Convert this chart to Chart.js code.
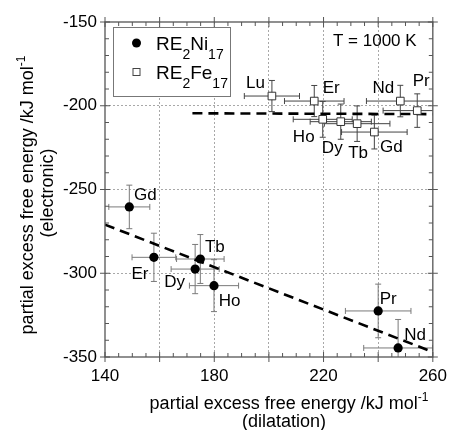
<!DOCTYPE html>
<html>
<head>
<meta charset="utf-8">
<script src="https://cdn.jsdelivr.net/npm/chart.js@4/dist/chart.umd.min.js"></script>
<style>
html,body{margin:0;padding:0;background:#fff;}
#wrap{width:456px;height:430px;position:relative;}
</style>
</head>
<body>
<div id="wrap"><canvas id="c" width="456" height="430"></canvas></div>
<script>
// ---- data ----
const niNames = ['Gd','Er','Tb','Dy','Ho','Pr','Nd'];
const niX     = [148.9, 157.9, 174.9, 173.0, 179.9, 240.0, 247.3];
const niY     = [-260.4, -290.5, -291.5, -297.5, -307.4, -322.5, -344.6];
const niXErr  = [7.5, 8.0, 8.7, 8.8, 9.0, 12.0, 12.6];
const niYErr  = [13.0, 14.4, 14.6, 14.7, 15.5, 16.0, 17.0];

const feNames = ['Lu','Er','Ho','Dy','Tb','Gd','Nd','Pr'];
const feX     = [201.1, 216.6, 219.7, 226.3, 232.3, 238.6, 248.1, 254.3];
const feY     = [-194.2, -197.2, -208.1, -209.5, -210.7, -215.7, -197.2, -202.9];
const feXErr  = [10.1, 10.9, 10.8, 11.2, 12.0, 12.0, 12.4, 12.5];
const feYErr  = [9.3, 9.3, 10.7, 10.5, 10.6, 10.1, 9.4, 10.0];

const niFitX = [140, 260];
const niFitY = [-271, -347];
const feFitX = [172, 260];
const feFitY = [-204.5, -205];

const xTickLabels = [140, 180, 220, 260];
const yTickLabels = [-150, -200, -250, -300, -350];

const legendNames = ['RE2Ni17', 'RE2Fe17'];
const tempLabel = 'T = 1000 K';
const xTitle = ['partial excess free energy /kJ mol', '-1', '(dilatation)'];
const yTitle = ['partial excess free energy /kJ mol', '-1', '(electronic)'];

// label offsets (px) relative to each point
const niLabelOff = [[16,-13],[-14,15.5],[14.5,-12.5],[-20.5,12],[15.5,14.5],[10,-13],[17,-14]];
const feLabelOff = [[-16.5,-13.5],[17,-13.5],[-19,17],[-8.5,26],[1,29],[17,14],[-17,-13.5],[4,-30]];

const FONT = '"Liberation Sans", Arial, Helvetica, sans-serif';

function pts(xs, ys){ return xs.map((x,i)=>({x:x, y:ys[i]})); }

function richText(ctx, parts, x, y, align){
  let w = 0;
  parts.forEach(p=>{ ctx.font = p.size+'px '+FONT; w += ctx.measureText(p.t).width; });
  let cx = align==='center' ? x - w/2 : (align==='right' ? x - w : x);
  ctx.textAlign = 'left';
  ctx.textBaseline = 'alphabetic';
  parts.forEach(p=>{ ctx.font = p.size+'px '+FONT; ctx.fillText(p.t, cx, y + (p.dy||0)); cx += ctx.measureText(p.t).width; });
}

const decor = {
  id:'decor',
  beforeDatasetsDraw(chart){
    const ctx = chart.ctx, xs = chart.scales.x, ys = chart.scales.y, a = chart.chartArea;
    ctx.save();
    ctx.beginPath(); ctx.rect(a.left, a.top, a.right-a.left, a.bottom-a.top); ctx.clip();
    function bars(X,Y,XE,YE,color){
      ctx.strokeStyle = color; ctx.lineWidth = 1;
      for(let i=0;i<X.length;i++){
        const px = xs.getPixelForValue(X[i]), py = ys.getPixelForValue(Y[i]);
        const x1 = xs.getPixelForValue(X[i]-XE[i]), x2 = xs.getPixelForValue(X[i]+XE[i]);
        const y1 = ys.getPixelForValue(Y[i]+YE[i]), y2 = ys.getPixelForValue(Y[i]-YE[i]);
        ctx.beginPath();
        ctx.moveTo(x1,py); ctx.lineTo(x2,py);
        ctx.moveTo(x1,py-3); ctx.lineTo(x1,py+3);
        ctx.moveTo(x2,py-3); ctx.lineTo(x2,py+3);
        ctx.moveTo(px,y1); ctx.lineTo(px,y2);
        ctx.moveTo(px-3,y1); ctx.lineTo(px+3,y1);
        ctx.moveTo(px-3,y2); ctx.lineTo(px+3,y2);
        ctx.stroke();
      }
    }
    bars(niX,niY,niXErr,niYErr,'#7a7a7a');
    bars(feX,feY,feXErr,feYErr,'#444');
    ctx.restore();
  },
  afterDraw(chart){
    const ctx = chart.ctx, xs = chart.scales.x, ys = chart.scales.y, a = chart.chartArea;
    ctx.save();
    // frame
    ctx.strokeStyle = '#555'; ctx.lineWidth = 1.3;
    ctx.strokeRect(a.left, a.top, a.right-a.left, a.bottom-a.top);
    // ticks
    ctx.lineWidth = 1;
    ctx.beginPath();
    for(let v=140; v<=260; v+=5){
      const p = xs.getPixelForValue(v);
      const major = (v % 20 === 0);
      const inL = major ? 5 : 4, outL = major ? 5 : 0;
      ctx.moveTo(p, a.bottom + outL); ctx.lineTo(p, a.bottom - inL);
      ctx.moveTo(p, a.top - outL); ctx.lineTo(p, a.top + inL);
    }
    for(let v=-350; v<=-150; v+=10){
      const p = ys.getPixelForValue(v);
      const major = (v % 50 === 0);
      const inL = major ? 5 : 4, outL = major ? 5 : 0;
      ctx.moveTo(a.left - outL, p); ctx.lineTo(a.left + inL, p);
      ctx.moveTo(a.right + outL, p); ctx.lineTo(a.right - inL, p);
    }
    ctx.stroke();

    // point labels
    ctx.fillStyle = '#000';
    ctx.font = '17px '+FONT;
    ctx.textAlign = 'center'; ctx.textBaseline = 'middle';
    niNames.forEach((n,i)=>{
      const px = xs.getPixelForValue(niX[i]) + niLabelOff[i][0];
      const py = ys.getPixelForValue(niY[i]) + niLabelOff[i][1];
      ctx.fillText(n, px, py+1);
    });
    feNames.forEach((n,i)=>{
      const px = xs.getPixelForValue(feX[i]) + feLabelOff[i][0];
      const py = ys.getPixelForValue(feY[i]) + feLabelOff[i][1];
      ctx.fillText(n, px, py+1);
    });

    // temperature
    ctx.textAlign = 'left'; ctx.textBaseline = 'alphabetic';
    ctx.font = '17px '+FONT;
    ctx.fillText(tempLabel, 333, 46);

    // legend
    ctx.fillStyle = '#fff';
    ctx.fillRect(113.5, 27.5, 117, 69);
    ctx.strokeStyle = '#777'; ctx.lineWidth = 1;
    ctx.strokeRect(113.5, 27.5, 117, 69);
    ctx.fillStyle = '#000';
    ctx.beginPath(); ctx.arc(136.5, 43, 4.5, 0, Math.PI*2); ctx.fill();
    ctx.fillStyle = '#fff'; ctx.strokeStyle = '#444';
    ctx.fillRect(133, 68.5, 7, 7); ctx.strokeRect(133, 68.5, 7, 7);
    ctx.fillStyle = '#000';
    const leg = legendNames.map(s=>{ const m = s.match(/^(RE)(2)([A-Za-z]+)(17)$/); return m; });
    richText(ctx, [{t:leg[0][1],size:19},{t:leg[0][2],size:14,dy:9},{t:leg[0][3],size:19},{t:leg[0][4],size:14,dy:9}], 156, 50, 'left');
    richText(ctx, [{t:leg[1][1],size:19},{t:leg[1][2],size:14,dy:9},{t:leg[1][3],size:19},{t:leg[1][4],size:14,dy:9}], 156, 79, 'left');

    // x title
    richText(ctx, [{t:xTitle[0],size:18},{t:xTitle[1],size:12,dy:-8}], 289, 409, 'center');
    richText(ctx, [{t:xTitle[2],size:18}], 284, 427, 'center');
    // y title
    ctx.save();
    ctx.translate(33, 195); ctx.rotate(-Math.PI/2);
    richText(ctx, [{t:yTitle[0],size:18},{t:yTitle[1],size:12,dy:-8}], 0, 0, 'center');
    ctx.restore();
    ctx.save();
    ctx.translate(53, 193); ctx.rotate(-Math.PI/2);
    richText(ctx, [{t:yTitle[2],size:18}], 0, 0, 'center');
    ctx.restore();
    ctx.restore();
  }
};

new Chart(document.getElementById('c'), {
  type:'scatter',
  data:{
    datasets:[
      {label:'RE2Ni17', data:pts(niX,niY), pointStyle:'circle', pointRadius:4.6, backgroundColor:'#000', borderColor:'#000', borderWidth:0, order:1},
      {label:'RE2Fe17', data:pts(feX,feY), pointStyle:'rect', pointRadius:5.4, backgroundColor:'#fff', borderColor:'#333', borderWidth:1, order:1},
      {type:'line', label:'fitNi', data:pts(niFitX,niFitY), borderColor:'#000', borderWidth:2.6, borderDash:[10,6], pointRadius:0, fill:false, order:2},
      {type:'line', label:'fitFe', data:pts(feFitX,feFitY), borderColor:'#000', borderWidth:2.6, borderDash:[10,6], pointRadius:0, fill:false, order:2}
    ]
  },
  options:{
    responsive:false, animation:false, devicePixelRatio:1,
    layout:{padding:{top:22, right:16, left:0, bottom:0}},
    plugins:{legend:{display:false}, tooltip:{enabled:false}},
    scales:{
      x:{type:'linear', min:140, max:260,
        afterFit(s){ s.height = 73; },
        border:{display:false, dash:[2,2]},
        grid:{drawTicks:false, color:(c)=> (c.tick && (c.tick.value===140||c.tick.value===260)) ? 'rgba(0,0,0,0)' : '#a8a8a8', lineWidth:1},
        ticks:{stepSize:20, padding:9, maxRotation:0, autoSkip:false, color:'#000', font:{size:17, family:FONT},
          callback:(v)=> xTickLabels.includes(v) ? String(v) : ''}
      },
      y:{type:'linear', min:-350, max:-150,
        afterFit(s){ s.width = 105; },
        border:{display:false, dash:[2,2]},
        grid:{drawTicks:false, color:(c)=> (c.tick && (c.tick.value===-150||c.tick.value===-350)) ? 'rgba(0,0,0,0)' : '#a8a8a8', lineWidth:1},
        ticks:{stepSize:50, padding:8, color:'#000', font:{size:17, family:FONT},
          callback:(v)=> yTickLabels.includes(v) ? String(v) : ''}
      }
    }
  },
  plugins:[decor]
});
</script>
</body>
</html>
